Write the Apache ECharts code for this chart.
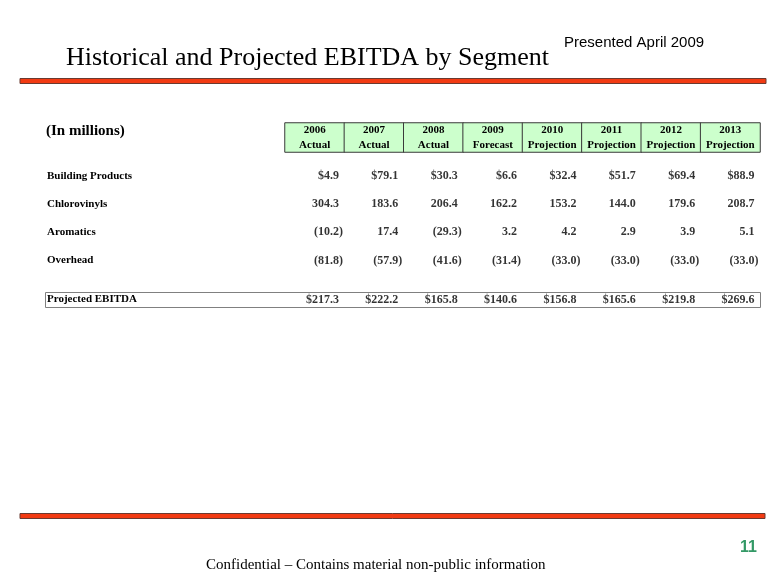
<!DOCTYPE html>
<html>
<head>
<meta charset="utf-8">
<script src="https://cdn.jsdelivr.net/npm/echarts@6/dist/echarts.min.js"></script>
<style>
html,body{margin:0;padding:0;background:#fff;}
#chart{width:780px;height:585px;}
</style>
</head>
<body>
<div id="chart"></div>
<script>
const years = ['2006', '2007', '2008', '2009', '2010', '2011', '2012', '2013'];
const periodTypes = ['Actual', 'Actual', 'Actual', 'Forecast', 'Projection', 'Projection', 'Projection', 'Projection'];
const segments = ['Building Products', 'Chlorovinyls', 'Aromatics', 'Overhead'];
const buildingProducts = [4.9, 79.1, 30.3, 6.6, 32.4, 51.7, 69.4, 88.9];
const chlorovinyls = [304.3, 183.6, 206.4, 162.2, 153.2, 144.0, 179.6, 208.7];
const aromatics = [-10.2, 17.4, -29.3, 3.2, 4.2, 2.9, 3.9, 5.1];
const overhead = [-81.8, -57.9, -41.6, -31.4, -33.0, -33.0, -33.0, -33.0];
const totalLabel = ['Projected EBITDA'];
const projectedEBITDA = [217.3, 222.2, 165.8, 140.6, 156.8, 165.6, 219.8, 269.6];

const segmentValues = [buildingProducts, chlorovinyls, aromatics, overhead];
const dollarRows = [true, false, false, false];

const SERIF = 'Liberation Serif, Times New Roman, serif';
const SANS = 'Liberation Sans, Arial, sans-serif';

function fmt(v, dollar) {
  const s = Math.abs(v).toFixed(1);
  if (v < 0) return '(' + s + ')';
  return (dollar ? '$' : '') + s;
}

const GRID_LEFT = 285, GRID_RIGHT = 20;
const bandHalf = (780 - GRID_LEFT - GRID_RIGHT) / years.length / 2;

function cellLabel(v, dollar) {
  return {
    show: true,
    position: 'inside',
    align: 'right',
    verticalAlign: 'middle',
    offset: [v < 0 ? bandHalf - 1.5 : bandHalf - 5.5, 0],
    formatter: fmt(v, dollar),
    fontFamily: SERIF,
    fontWeight: 'bold',
    fontSize: 12,
    color: '#000'
  };
}

const bodyData = [];
segmentValues.forEach((arr, r) => {
  arr.forEach((v, c) => {
    bodyData.push({ value: [years[c], segments[r], v], label: cellLabel(v, dollarRows[r]) });
  });
});
const totalData = projectedEBITDA.map((v, c) => ({ value: [years[c], totalLabel[0], v], label: cellLabel(v, true) }));
const headerData = years.map((y, i) => [y, 'h', 1]);

const chart = echarts.init(document.getElementById('chart'), null, { renderer: 'canvas' });

const hiddenX = (gi) => ({
  type: 'category', gridIndex: gi, data: years,
  axisLine: { show: false }, axisTick: { show: false }, axisLabel: { show: false }, splitLine: { show: false }
});

const rowLabel = {
  show: true, align: 'left', margin: 238,
  fontFamily: SERIF, fontWeight: 'bold', fontSize: 11, color: '#000'
};

chart.setOption({
  animation: false,
  backgroundColor: '#fff',
  title: [
    { text: 'Historical and Projected EBITDA by Segment', left: 66, top: 45, padding: 0,
      textStyle: { fontFamily: SERIF, fontWeight: 'normal', fontSize: 26, color: '#000' } },
    { text: 'Presented April 2009', left: 564, top: 35, padding: 0,
      textStyle: { fontFamily: SANS, fontWeight: 'normal', fontSize: 15, color: '#000' } },
    { text: '(In millions)', left: 46, top: 124, padding: 0,
      textStyle: { fontFamily: SERIF, fontWeight: 'bold', fontSize: 15, color: '#000' } },
    { text: 'Confidential \u2013 Contains material non-public information', left: 206, top: 558, padding: 0,
      textStyle: { fontFamily: SERIF, fontWeight: 'normal', fontSize: 15, color: '#000' } },
    { text: '11', left: 740, top: 540, padding: 0,
      textStyle: { fontFamily: SANS, fontWeight: 'bold', fontSize: 16, color: '#339966' } }
  ],
  graphic: [
    { type: 'rect', z: 0, shape: { x: 20, y: 78.5, width: 746, height: 5 },
      style: { fill: '#f23a12', stroke: '#6a3a30', lineWidth: 1 } },
    { type: 'rect', z: 0, shape: { x: 20, y: 513.5, width: 745, height: 5 },
      style: { fill: '#f23a12', stroke: '#6a3a30', lineWidth: 1 } },
    { type: 'rect', z: 0, shape: { x: 45.5, y: 292.5, width: 715, height: 15 },
      style: { fill: '#fff', stroke: '#808080', lineWidth: 1 } }
  ],
  grid: [
    { left: GRID_LEFT, right: GRID_RIGHT, top: 123, height: 29 },
    { left: GRID_LEFT, right: GRID_RIGHT, top: 162, height: 112.5 },
    { left: GRID_LEFT, right: GRID_RIGHT, top: 292, height: 15 }
  ],
  xAxis: [hiddenX(0), hiddenX(1), hiddenX(2)],
  yAxis: [
    { type: 'category', gridIndex: 0, data: ['h'], show: false },
    { type: 'category', gridIndex: 1, data: segments, inverse: true,
      axisLine: { show: false }, axisTick: { show: false }, splitLine: { show: false }, axisLabel: rowLabel },
    { type: 'category', gridIndex: 2, data: totalLabel,
      axisLine: { show: false }, axisTick: { show: false }, splitLine: { show: false }, axisLabel: rowLabel }
  ],
  series: [
    {
      type: 'heatmap', xAxisIndex: 0, yAxisIndex: 0, data: headerData,
      itemStyle: { color: '#ccffcc', borderColor: '#3a3a3a', borderWidth: 1 },
      emphasis: { disabled: true },
      label: {
        show: true,
        formatter: (p) => years[p.dataIndex] + '\n' + periodTypes[p.dataIndex],
        fontFamily: SERIF, fontWeight: 'bold', fontSize: 11, lineHeight: 15, color: '#000'
      }
    },
    {
      type: 'scatter', xAxisIndex: 1, yAxisIndex: 1, data: bodyData,
      symbolSize: 1, itemStyle: { color: 'rgba(0,0,0,0)' }, emphasis: { disabled: true }
    },
    {
      type: 'scatter', xAxisIndex: 2, yAxisIndex: 2, data: totalData,
      symbolSize: 1, itemStyle: { color: 'rgba(0,0,0,0)' }, emphasis: { disabled: true }
    }
  ]
});
</script>
</body>
</html>
